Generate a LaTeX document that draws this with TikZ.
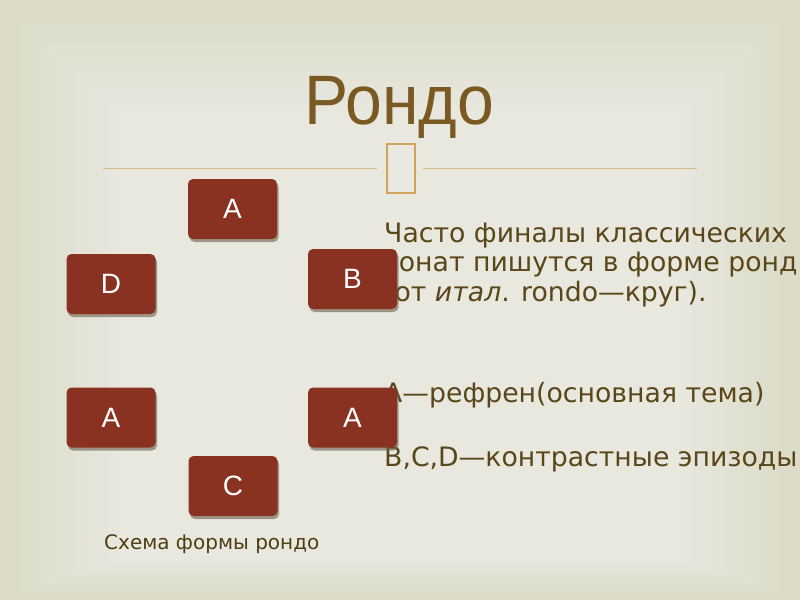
\documentclass[tikz,border=0pt]{standalone}
\usepackage{fontspec}
\setmainfont{DejaVu Sans}
\newfontfamily\titlefont{Liberation Sans}
\newfontfamily\boxfont{Liberation Sans}
\definecolor{bgouter}{HTML}{DCDCC9}
\definecolor{bginner}{HTML}{E8E8DF}
\definecolor{titlecol}{HTML}{7A5A22}
\definecolor{rulecol}{HTML}{D8B98C}
\definecolor{glyphcol}{HTML}{D3A35E}
\definecolor{boxred}{HTML}{8A3222}
\definecolor{textcol}{HTML}{5A4619}
\definecolor{capcol}{HTML}{4E3D12}
\definecolor{shadowcol}{HTML}{6E5E4C}
\tikzset{
  rbox/.style={fill=boxred, rounded corners=5pt, minimum width=89pt, minimum height=60pt,
    inner sep=0pt, text=white, font=\boxfont\fontsize{28}{28}\selectfont},
  shadowbox/.style={fill=shadowcol, opacity=0.6, rounded corners=5pt},
  body/.style={anchor=base west, text=textcol, inner sep=0pt, font=\fontsize{26.7}{26.7}\selectfont},
}
\begin{document}
\begin{tikzpicture}[x=1pt,y=-1pt]
\useasboundingbox (0,0) rectangle (800,600);
\fill[bgouter] (0,0) rectangle (800,600);
\foreach \i in {1,...,10}{
  \pgfmathsetmacro{\p}{\i*10}
  \fill[bginner!\p!bgouter] (10+\i*11,12+\i*10) rectangle (790-\i*11,595-\i*3.5);
}
% title
\node[text=titlecol, font=\titlefont\fontsize{70}{70}\selectfont, anchor=base, inner sep=0pt, xscale=0.945] (title) at (399,124) {Рондо};
% rules and glyph box
\coordinate (l1) at (103,168);
\coordinate (l2) at (377,168);
\coordinate (r1) at (423,168);
\coordinate (r2) at (697,168);
\draw[rulecol, line width=1pt] (l1) -- (l2);
\draw[rulecol, line width=1pt] (r1) -- (r2);
\node[draw=glyphcol, line width=2.5pt, minimum width=28pt, minimum height=49pt, inner sep=0pt] (glyph) at (401,168.5) {};
% body text (behind boxes)
\node[body] (t1) at (384,242) {Часто финалы классических};
\node[body] (t2) at (384,271) {сонат пишутся в форме ронд};
\node[body] (t3) at (384,301) {(от \textit{итал}. rondo—круг).};
\node[body] (t4) at (384,402) {A—рефрен(основная тема)};
\node[body] (t5) at (384,466) {B,C,D—контрастные эпизоды};
% shadows
\foreach \x/\y in {232.5/209, 111/284, 352.5/279, 111/417.5, 352.5/417.5, 233/486}{
  \fill[shadowbox] (\x-44.5+1.5,\y-30+3) rectangle (\x+44.5+1.5,\y+30+3);
}
% boxes
\node[rbox] (a1) at (232.5,209) {A};
\node[rbox] (d) at (111,284) {D};
\node[rbox] (b) at (352.5,279) {B};
\node[rbox] (a2) at (111,417.5) {A};
\node[rbox] (a3) at (352.5,417.5) {A};
\node[rbox] (c) at (233,486) {C};
% caption
\node[anchor=base west, text=capcol, inner sep=0pt, font=\fontsize{20}{20}\selectfont] (cap) at (104,549) {Схема формы рондо};
\end{tikzpicture}
\end{document}
